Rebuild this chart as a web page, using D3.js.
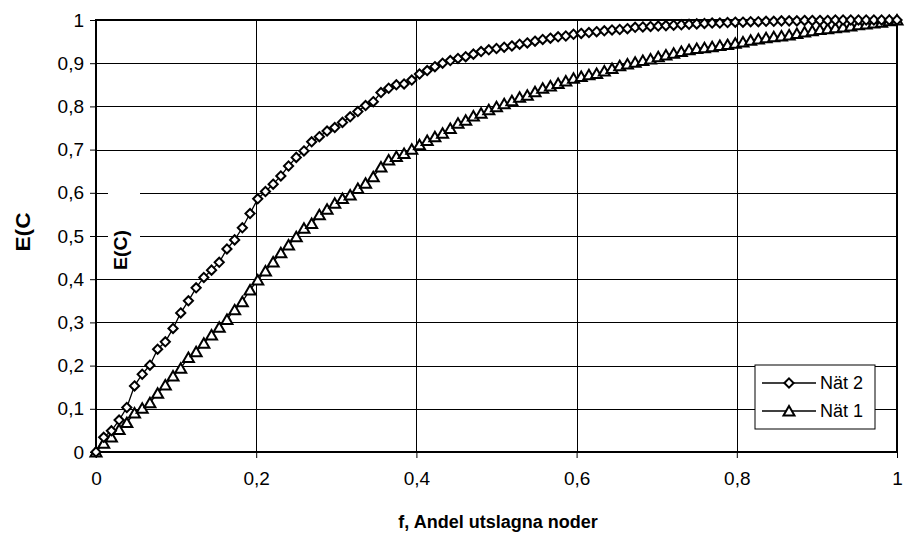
<!DOCTYPE html>
<html>
<head>
<meta charset="utf-8">
<script src="https://cdn.jsdelivr.net/npm/d3@7"></script>
<style>
  body { margin: 0; background: #fff; }
  text { font-family: "Liberation Sans", Arial, sans-serif; fill: #000; }
</style>
</head>
<body>
<div id="chart"></div>
<script>
var width = 906;
var height = 533;

// tick values and their labels (Swedish decimal comma)
var yTicks = [0, 0.1, 0.2, 0.3, 0.4, 0.5, 0.6, 0.7, 0.8, 0.9, 1];
var yTickLabels = ["0", "0,1", "0,2", "0,3", "0,4", "0,5", "0,6", "0,7", "0,8", "0,9", "1"];
var xTicks = [0, 0.2, 0.4, 0.6, 0.8, 1];
var xTickLabels = ["0", "0,2", "0,4", "0,6", "0,8", "1"];

var seriesNames = ["Nät 2", "Nät 1"];

// E(C) per marker (105 markers from f=0 to f=1)
var nat2 = [0, 0.034, 0.049, 0.074, 0.103, 0.153, 0.18, 0.201, 0.238, 0.255,
    0.286, 0.322, 0.35, 0.38, 0.404, 0.421, 0.439, 0.47, 0.491, 0.519,
    0.552, 0.586, 0.603, 0.62, 0.639, 0.662, 0.682, 0.697, 0.718, 0.73,
    0.743, 0.751, 0.763, 0.776, 0.788, 0.802, 0.811, 0.832, 0.842, 0.85,
    0.852, 0.861, 0.875, 0.883, 0.892, 0.9, 0.906, 0.911, 0.915, 0.921,
    0.927, 0.931, 0.934, 0.937, 0.94, 0.944, 0.947, 0.951, 0.955, 0.958,
    0.961, 0.963, 0.967, 0.969, 0.971, 0.973, 0.975, 0.977, 0.978, 0.98,
    0.983, 0.984, 0.985, 0.986, 0.987, 0.988, 0.989, 0.99, 0.991, 0.992,
    0.993, 0.993, 0.994, 0.995, 0.995, 0.996, 0.996, 0.997, 0.997, 0.998,
    0.998, 0.998, 0.999, 0.999, 0.999, 0.999, 1, 1, 1, 1,
    1, 1, 1, 1, 1];

var nat1 = [0, 0.02, 0.035, 0.052, 0.068, 0.09, 0.101, 0.114, 0.136, 0.155,
    0.176, 0.194, 0.219, 0.232, 0.252, 0.271, 0.289, 0.307, 0.329, 0.348,
    0.375, 0.398, 0.419, 0.44, 0.461, 0.479, 0.498, 0.518, 0.529, 0.549,
    0.562, 0.576, 0.587, 0.595, 0.61, 0.622, 0.637, 0.66, 0.676, 0.684,
    0.691, 0.701, 0.711, 0.721, 0.73, 0.738, 0.749, 0.761, 0.768, 0.778,
    0.784, 0.792, 0.799, 0.806, 0.813, 0.821, 0.826, 0.834, 0.842, 0.847,
    0.853, 0.859, 0.865, 0.869, 0.873, 0.876, 0.882, 0.888, 0.894, 0.898,
    0.902, 0.906, 0.91, 0.915, 0.919, 0.923, 0.927, 0.931, 0.934, 0.936,
    0.938, 0.941, 0.943, 0.946, 0.949, 0.953, 0.956, 0.959, 0.961, 0.963,
    0.965, 0.969, 0.972, 0.975, 0.978, 0.98, 0.982, 0.984, 0.986, 0.989,
    0.991, 0.993, 0.995, 0.998, 1];

// fraction of removed nodes for each marker
var fracs = d3.range(nat2.length).map(function (i) { return i / (nat2.length - 1); });

var plotLeft = 96, plotTop = 20, plotRight = 897, plotBottom = 452;

var x = d3.scaleLinear().domain([0, 1]).range([plotLeft, plotRight]);
var y = d3.scaleLinear().domain([0, 1]).range([plotBottom, plotTop]);

var svg = d3.select("#chart")
    .append("svg")
    .attr("width", width)
    .attr("height", height);

// gridlines
svg.append("g")
    .attr("transform", "translate(0," + plotBottom + ")")
    .call(d3.axisBottom(x).tickValues(xTicks).tickSize(-(plotBottom - plotTop)).tickFormat(""))
    .call(function (g) { g.select(".domain").remove(); })
    .selectAll("line").attr("stroke", "#000").attr("shape-rendering", "crispEdges");

svg.append("g")
    .attr("transform", "translate(" + plotLeft + ",0)")
    .call(d3.axisLeft(y).tickValues(yTicks).tickSize(-(plotRight - plotLeft)).tickFormat(""))
    .call(function (g) { g.select(".domain").remove(); })
    .selectAll("line").attr("stroke", "#000").attr("shape-rendering", "crispEdges");

// axes with labels
var yAxis = svg.append("g")
    .attr("transform", "translate(" + plotLeft + ",0)")
    .call(d3.axisLeft(y).tickValues(yTicks).tickSize(6).tickPadding(6)
        .tickFormat(function (d, i) { return yTickLabels[i]; }));
yAxis.select(".domain").remove();
yAxis.selectAll("line").attr("stroke", "#000");
yAxis.selectAll("text").style("font-size", "19px");

var xAxis = svg.append("g")
    .attr("transform", "translate(0," + plotBottom + ")")
    .call(d3.axisBottom(x).tickValues(xTicks).tickSize(6).tickPadding(14)
        .tickFormat(function (d, i) { return xTickLabels[i]; }));
xAxis.select(".domain").remove();
xAxis.selectAll("line").attr("stroke", "#000");
xAxis.selectAll("text").style("font-size", "19px");

// plot frame
svg.append("rect")
    .attr("x", plotLeft).attr("y", plotTop)
    .attr("width", plotRight - plotLeft).attr("height", plotBottom - plotTop)
    .attr("fill", "none")
    .attr("stroke", "#000")
    .attr("stroke-width", 2);

// inner axis title box
svg.append("rect")
    .attr("x", 108).attr("y", 168)
    .attr("width", 32).attr("height", 106)
    .attr("fill", "#fff");
svg.append("text")
    .attr("transform", "translate(127,250) rotate(-90)")
    .attr("text-anchor", "middle")
    .attr("textLength", 40)
    .attr("lengthAdjust", "spacingAndGlyphs")
    .style("font-size", "18px")
    .style("font-weight", "bold")
    .text("E(C)");

// outer axis title (clipped in the original)
svg.append("text")
    .attr("transform", "translate(30,232) rotate(-90)")
    .attr("text-anchor", "middle")
    .attr("textLength", 39)
    .attr("lengthAdjust", "spacingAndGlyphs")
    .style("font-size", "21px")
    .style("font-weight", "bold")
    .text("E(C");

svg.append("text")
    .attr("x", 498)
    .attr("y", 528)
    .attr("text-anchor", "middle")
    .style("font-size", "18px")
    .style("font-weight", "bold")
    .text("f, Andel utslagna noder");

var diamond = "M0,-4.6L4.6,0L0,4.6L-4.6,0Z";
var triangle = "M0,-5L5.5,4.5L-5.5,4.5Z";

var line = d3.line()
    .x(function (d) { return x(d[0]); })
    .y(function (d) { return y(d[1]); });

function drawSeries(values, shape) {
    var pts = fracs.map(function (f, i) { return [f, values[i]]; });
    svg.append("path")
        .datum(pts)
        .attr("d", line)
        .attr("fill", "none")
        .attr("stroke", "#000")
        .attr("stroke-width", 1.3);
    svg.append("g").selectAll("path")
        .data(pts)
        .enter()
        .append("path")
        .attr("d", shape)
        .attr("transform", function (d) { return "translate(" + x(d[0]) + "," + y(d[1]) + ")"; })
        .attr("fill", "#fff")
        .attr("stroke", "#000")
        .attr("stroke-width", 2);
}

drawSeries(nat1, triangle);
drawSeries(nat2, diamond);

// legend
var legend = svg.append("g");
legend.append("rect")
    .attr("x", 755).attr("y", 365)
    .attr("width", 120).attr("height", 64)
    .attr("fill", "#fff")
    .attr("stroke", "#000")
    .attr("stroke-width", 1);

var shapes = [diamond, triangle];
seriesNames.forEach(function (name, i) {
    var ly = 383 + i * 28;
    legend.append("line")
        .attr("x1", 762).attr("x2", 816)
        .attr("y1", ly).attr("y2", ly)
        .attr("stroke", "#000")
        .attr("stroke-width", 1.3);
    legend.append("path")
        .attr("d", shapes[i])
        .attr("transform", "translate(789," + ly + ")")
        .attr("fill", "#fff")
        .attr("stroke", "#000")
        .attr("stroke-width", 2);
    legend.append("text")
        .attr("x", 820)
        .attr("y", ly)
        .attr("dy", "0.35em")
        .style("font-size", "18px")
        .text(name);
});
</script>
</body>
</html>
